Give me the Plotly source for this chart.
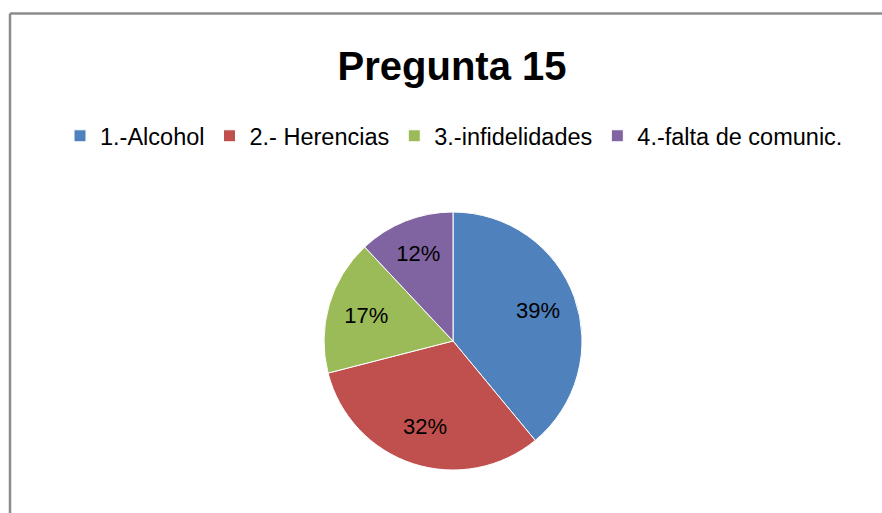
import plotly.graph_objects as go

labels = ["1.-Alcohol", "2.- Herencias", "3.-infidelidades", "4.-falta de comunic."]
values = [39, 32, 17, 12]
colors = ["#4F81BD", "#C0504D", "#9BBB59", "#8064A2"]
title = "Pregunta 15"

W, H = 882, 513
cx, cy, r = 453, 341, 129
dom = dict(x=[(cx - r) / W, (cx + r) / W], y=[(H - cy - r) / H, (H - cy + r) / H])

fig = go.Figure()
fig.add_trace(go.Pie(
    labels=labels, values=values, sort=False, direction="clockwise", rotation=0,
    marker=dict(colors=colors, line=dict(color="white", width=1)),
    textinfo="none", domain=dom, hoverinfo="label+percent",
))
# transparent overlay used only to place the percentage labels in the outer part of each slice
fig.add_trace(go.Pie(
    labels=labels, values=values, sort=False, direction="clockwise", rotation=0, hole=0.4,
    marker=dict(colors=["rgba(0,0,0,0)"] * len(values), line=dict(width=0)),
    textinfo="percent", textposition="inside", insidetextorientation="horizontal",
    textfont=dict(family="Liberation Sans", size=22, color="black"),
    domain=dom, showlegend=False, hoverinfo="skip",
))

fig.update_layout(
    width=W, height=H, margin=dict(l=0, r=0, t=0, b=0),
    paper_bgcolor="white", plot_bgcolor="white",
    title=dict(text="<b>" + title + "</b>", x=452 / W, xanchor="center", y=1 - 66 / H, yanchor="middle",
               font=dict(family="Liberation Sans", size=40, color="black")),
    legend=dict(orientation="h", x=454 / W, xanchor="center", y=1 - 136 / H, yanchor="middle",
                font=dict(family="Liberation Sans", size=23.5, color="black"), itemwidth=30,
                traceorder="normal"),
    shapes=[
        dict(type="line", xref="paper", yref="paper", x0=10 / W, x1=1.0, y0=1 - 13.5 / H, y1=1 - 13.5 / H,
             line=dict(color="#8c8c8c", width=2.5)),
        dict(type="line", xref="paper", yref="paper", x0=10 / W, x1=10 / W, y0=0, y1=1 - 13.5 / H,
             line=dict(color="#8c8c8c", width=2.5)),
    ],
)

fig.write_html("out.html", config={"displayModeBar": False},
               post_script="document.body.style.margin='0';document.body.style.padding='0';")
